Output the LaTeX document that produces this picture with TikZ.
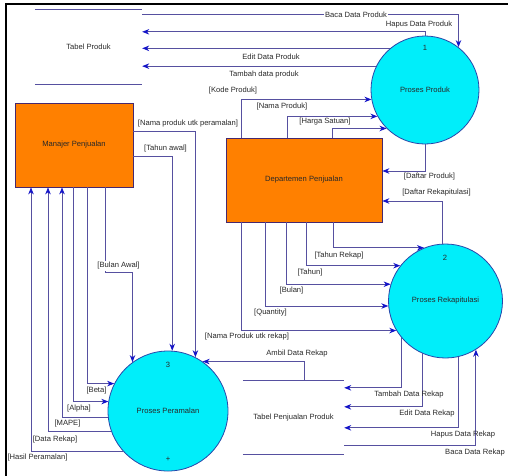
\documentclass[tikz,border=0pt]{standalone}
\usepackage{fontspec}
\setmainfont{Liberation Sans}
\usetikzlibrary{arrows.meta,shapes.geometric}
\definecolor{flowline}{RGB}{86,80,160}
\definecolor{tipblue}{RGB}{20,20,200}
\definecolor{proccyan}{RGB}{0,238,250}
\definecolor{procedge}{RGB}{40,70,170}
\definecolor{entorange}{RGB}{255,128,0}
\definecolor{entedge}{RGB}{70,40,110}
\definecolor{inkgray}{RGB}{40,40,40}
\begin{document}
\begin{tikzpicture}[x=1pt,y=-1pt,
  font=\fontsize{7.6}{9}\selectfont, text=inkgray,
  proc/.style={circle, draw=procedge, fill=proccyan, line width=0.8pt, inner sep=0pt},
  ent/.style={rectangle, draw=entedge, fill=entorange, line width=0.8pt, inner sep=0pt},
  store/.style={inner sep=0pt},
  storeline/.style={draw=flowline, line width=1pt},
  flow/.style={draw=flowline, line width=0.9pt,
    -{Stealth[length=7pt,width=5.5pt,inset=2.2pt,color=tipblue]}},
  lbl/.style={inner sep=1pt},
  lblw/.style={lbl, fill=white}]
\useasboundingbox (0,0) rectangle (508,475);

% frame
\draw[line width=2.2pt, black] (6,476) -- (6,4) -- (508,4);

% external entities
\node[ent, minimum width=118pt, minimum height=84pt] (mp) at (74,145) {Manajer Penjualan};
\node[ent, minimum width=156pt, minimum height=84pt] (dp) at (304,180) {Departemen Penjualan};

% processes
\node[proc, minimum size=108pt] (p1) at (425,90) {Proses Produk};
\node[proc, minimum size=114pt] (p2) at (445.5,301) {Proses Rekapitulasi};
\node[proc, minimum size=120pt] (p3) at (168,411) {Proses Peramalan};
\node (n1) at (425,48) {1};
\node (n2) at (445,258) {2};
\node (n3) at (168,365) {3};
\node (plus3) at (168,459) {+};

% data stores
\node[store, minimum width=107pt, minimum height=74pt] (tp) at (88.5,47) {Tabel Produk};
\draw[storeline] (tp.north west) -- (tp.north east) (tp.south west) -- (tp.south east);
\node[store, minimum width=101pt, minimum height=73pt] (ts) at (293.5,417.5) {Tabel Penjualan Produk};
\draw[storeline] (ts.north west) -- (ts.north east) (ts.south west) -- (ts.south east);

% Proses Produk <-> Tabel Produk
\draw[flow] ([yshift=-5pt]tp.north east) -| (p1.52);
\draw[flow] (p1.north) |- ([yshift=-22pt]tp.north east);
\draw[flow] (p1.130) -- (p1.130 -| tp.east);
\draw[flow] (p1.154) -- (p1.154 -| tp.east);

% Departemen Penjualan -> Proses Produk
\draw[flow] ([xshift=-63pt]dp.north) |- (p1.190);
\draw[flow] ([xshift=-17pt]dp.north) |- (p1.209);
\draw[flow] ([xshift=28pt]dp.north) |- (p1.225);

% back to Departemen Penjualan
\draw[flow] (p1.south) |- ([yshift=9pt]dp.east);
\draw[flow] (p2.93) |- ([yshift=-21pt]dp.east);

% Departemen Penjualan -> Proses Rekapitulasi
\draw[flow] ([xshift=29pt]dp.south) |- (p2.112);
\draw[flow] ([xshift=2pt]dp.south) |- (p2.142);
\draw[flow] ([xshift=-18pt]dp.south) |- (p2.163);
\draw[flow] ([xshift=-39pt]dp.south) |- (p2.185);
\draw[flow] ([xshift=-63pt]dp.south) |- (p2.211);

% Proses Rekapitulasi <-> Tabel Penjualan Produk
\draw[flow] (p2.220) |- ([yshift=-7pt]ts.north east);
\draw[flow] (p2.246) |- ([yshift=-26pt]ts.north east);
\draw[flow] (p2.283) |- ([yshift=-47pt]ts.north east);
\draw[flow] ([yshift=-65pt]ts.north east) -| (p2.302);

% Tabel Penjualan Produk -> Proses Peramalan
\draw[flow] ([xshift=10.5pt]ts.north) |- (p3.55);

% Manajer Penjualan -> Proses Peramalan
\draw[flow] ([yshift=14pt]mp.east) -| (p3.63);
\draw[flow] ([yshift=-11pt]mp.east) -| (p3.86);
\draw[flow] ([xshift=31pt]mp.south) -- ++(0,85) -| (p3.126);
\draw[flow] ([xshift=13pt]mp.south) |- (p3.153);
\draw[flow] ([xshift=-1pt]mp.south) |- (p3.171);

% Proses Peramalan -> Manajer Penjualan
\draw[flow] (p3.186) -| ([xshift=-12pt]mp.south);
\draw[flow] (p3.200) -| ([xshift=-26pt]mp.south);
\draw[flow] (p3.222) -| ([xshift=-43pt]mp.south);

% flow labels
\node[lblw] (lBacaP) at (356,15) {Baca Data Produk};
\node[lbl] (lHapusP) at (419,25) {Hapus Data Produk};
\node[lbl] (lEditP) at (271,57) {Edit Data Produk};
\node[lbl] (lTambahP) at (264,75) {Tambah data produk};
\node[lbl] (lKode) at (233,91) {[Kode Produk]};
\node[lbl] (lNamaP) at (282,107) {[Nama Produk]};
\node[lbl] (lHarga) at (325,122) {[Harga Satuan]};
\node[lbl] (lDaftarP) at (429.5,177) {[Daftar Produk]};
\node[lbl] (lDaftarR) at (436.5,193) {[Daftar Rekapitulasi]};
\node[lbl] (lThnRekap) at (339,256) {[Tahun Rekap]};
\node[lbl] (lThn) at (310,273) {[Tahun]};
\node[lbl] (lBln) at (291.5,291) {[Bulan]};
\node[lbl] (lQty) at (270.5,313) {[Quantity]};
\node[lbl] (lNamaR) at (247,337) {[Nama Produk utk rekap]};
\node[lbl] (lAmbil) at (297,354) {Ambil Data Rekap};
\node[lbl] (lTambahR) at (409,395) {Tambah Data Rekap};
\node[lbl] (lEditR) at (427,414) {Edit Data Rekap};
\node[lbl] (lHapusR) at (463,435) {Hapus Data Rekap};
\node[lbl, anchor=east] (lBacaR) at (506,453) {Baca Data Rekap};
\node[lbl] (lNamaPer) at (188,124) {[Nama produk utk peramalan]};
\node[lbl] (lThnAwal) at (165.5,149) {[Tahun awal]};
\node[lblw] (lBlnAwal) at (118.5,266) {[Bulan Awal]};
\node[lbl] (lBeta) at (96.5,391) {[Beta]};
\node[lbl] (lAlpha) at (79,409) {[Alpha]};
\node[lbl] (lMape) at (67.5,424) {[MAPE]};
\node[lbl] (lDataR) at (55,440) {[Data Rekap]};
\node[lbl] (lHasil) at (37.5,458) {[Hasil Peramalan]};
\end{tikzpicture}
\end{document}
